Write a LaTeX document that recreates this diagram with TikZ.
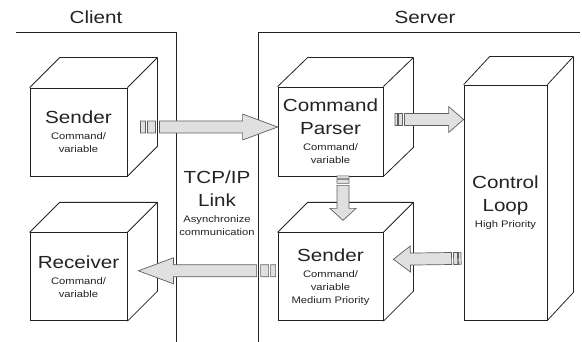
\documentclass[tikz,border=0pt]{standalone}
\usepackage{fontspec}
\setmainfont{Liberation Sans}[FakeStretch=1.18]
\usetikzlibrary{calc, positioning}
\definecolor{linegray}{RGB}{35,35,35}
\definecolor{arrowgray}{RGB}{95,95,95}
\definecolor{arrowfill}{RGB}{224,224,224}
\newcommand{\bigf}{\fontsize{17.5}{21}\selectfont}
\newcommand{\smlf}{\fontsize{9.5}{13}\selectfont}
% top and side face behind a box node
\newcommand{\cubedepth}[3]{%
  \draw[cubeline] (#1.north west) -- ++(#2,#3)
    -- ($(#1.north east)+(#2,#3)$) -- ($(#1.south east)+(#2,#3)$)
    -- (#1.south east) (#1.north east) -- ++(#2,#3);}

\begin{document}
\begin{tikzpicture}[x=1pt, y=-1pt, font=\bigf, text=linegray,
  box/.style={draw=linegray, line width=0.8pt, fill=white,
    align=center, inner sep=0pt},
  cubeline/.style={draw=linegray, line width=0.8pt, line join=round},
  frame/.style={draw=linegray, line width=0.8pt},
  arr/.style={draw=arrowgray, fill=arrowfill, line width=0.7pt},
  barrow/.style 2 args={to path={
    (\tikztostart) coordinate (bS) (\tikztotarget) coordinate (bT)
    ($(bT)!#1!(bS)$) coordinate (bH)
    ($(bS)!6pt!90:(bT)$) -- ($(bH)!6pt!90:(bT)$) -- ($(bH)!13pt!90:(bT)$)
    -- (bT) -- ($(bH)!13pt!-90:(bT)$) -- ($(bH)!6pt!-90:(bT)$)
    -- ($(bS)!6pt!-90:(bT)$) -- cycle
    % tail blocks
    ($(bS)!-4pt*#2!(bT)$) coordinate (bA) ($(bS)!-12pt*#2!(bT)$) coordinate (bB)
    ($(bA)!6pt!90:(bT)$) -- ($(bB)!6pt!90:(bT)$)
    -- ($(bB)!6pt!-90:(bT)$) -- ($(bA)!6pt!-90:(bT)$) -- cycle
    ($(bS)!-14pt*#2!(bT)$) coordinate (bC) ($(bS)!-19pt*#2!(bT)$) coordinate (bD)
    ($(bC)!6pt!90:(bT)$) -- ($(bD)!6pt!90:(bT)$)
    -- ($(bD)!6pt!-90:(bT)$) -- ($(bC)!6pt!-90:(bT)$) -- cycle}}
]
\useasboundingbox (0,0) rectangle (582,342);

% Frames
\draw[frame] (16,32) -- (176,32) -- (176,342);
\draw[frame] (258,342) -- (258,32) -- (580,32);
\node (client) at (96,17) {Client};
\node (server) at (425,17) {Server};

% Client side
\node[box, minimum width=97pt, minimum height=88pt] (sndc) at (78.5,132)
  {Sender\\[-5pt]\smlf Command/\\[-8pt]\smlf variable};
\node[box, minimum width=97pt, minimum height=88pt, below=56pt of sndc] (rcv)
  {Receiver\\[-5pt]\smlf Command/\\[-8pt]\smlf variable};
\cubedepth{sndc}{30}{-30}
\cubedepth{rcv}{30}{-30}

% Link
\node[align=center] (tcp) at (217,203)
  {TCP/IP\\[2pt]Link\\[-5pt]\smlf Asynchronize\\[-8pt]\smlf communication};

% Server side
\node[box, minimum width=105pt, minimum height=89pt] (cp) at (330.5,131.5)
  {Command\\[2pt]Parser\\[-5pt]\smlf Command/\\[-8pt]\smlf variable};
\node[box, minimum width=105pt, minimum height=88pt, below=56pt of cp] (sds)
  {Sender\\[-5pt]\smlf Command/\\[-8pt]\smlf variable\\[-8pt]\smlf Medium Priority};
\node[box, minimum width=83pt, minimum height=235pt] (ctl) at (505.5,202.5)
  {Control\\[2pt]Loop\\[-5pt]\smlf High Priority};
\cubedepth{cp}{30}{-29}
\cubedepth{sds}{30}{-30}
\cubedepth{ctl}{26}{-28}

% Arrows
\draw[arr] ($(sndc.east)+(32,-5)$) to[barrow={35pt}{1}] ($(cp.west)+(0,-4.5)$);
\draw[arr] ($(cp.east)+(21,-12)$) to[barrow={15pt}{0.5}] ($(cp.east -| ctl.west)+(0,-12)$);
\draw[arr] ($(cp.south)+(12.5,9)$) to[barrow={12pt}{0.5}] ($(sds.north)+(12.5,-12)$);
\draw[arr] ($(ctl.west)+(-12,56)$) to[barrow={17pt}{0.5}] ($(sds.east)+(10,-17.5)$);
\draw[arr] ($(sds.west)+(-21,-6)$) to[barrow={35pt}{1}] ($(rcv.east)+(11,-6)$);
\end{tikzpicture}
\end{document}
